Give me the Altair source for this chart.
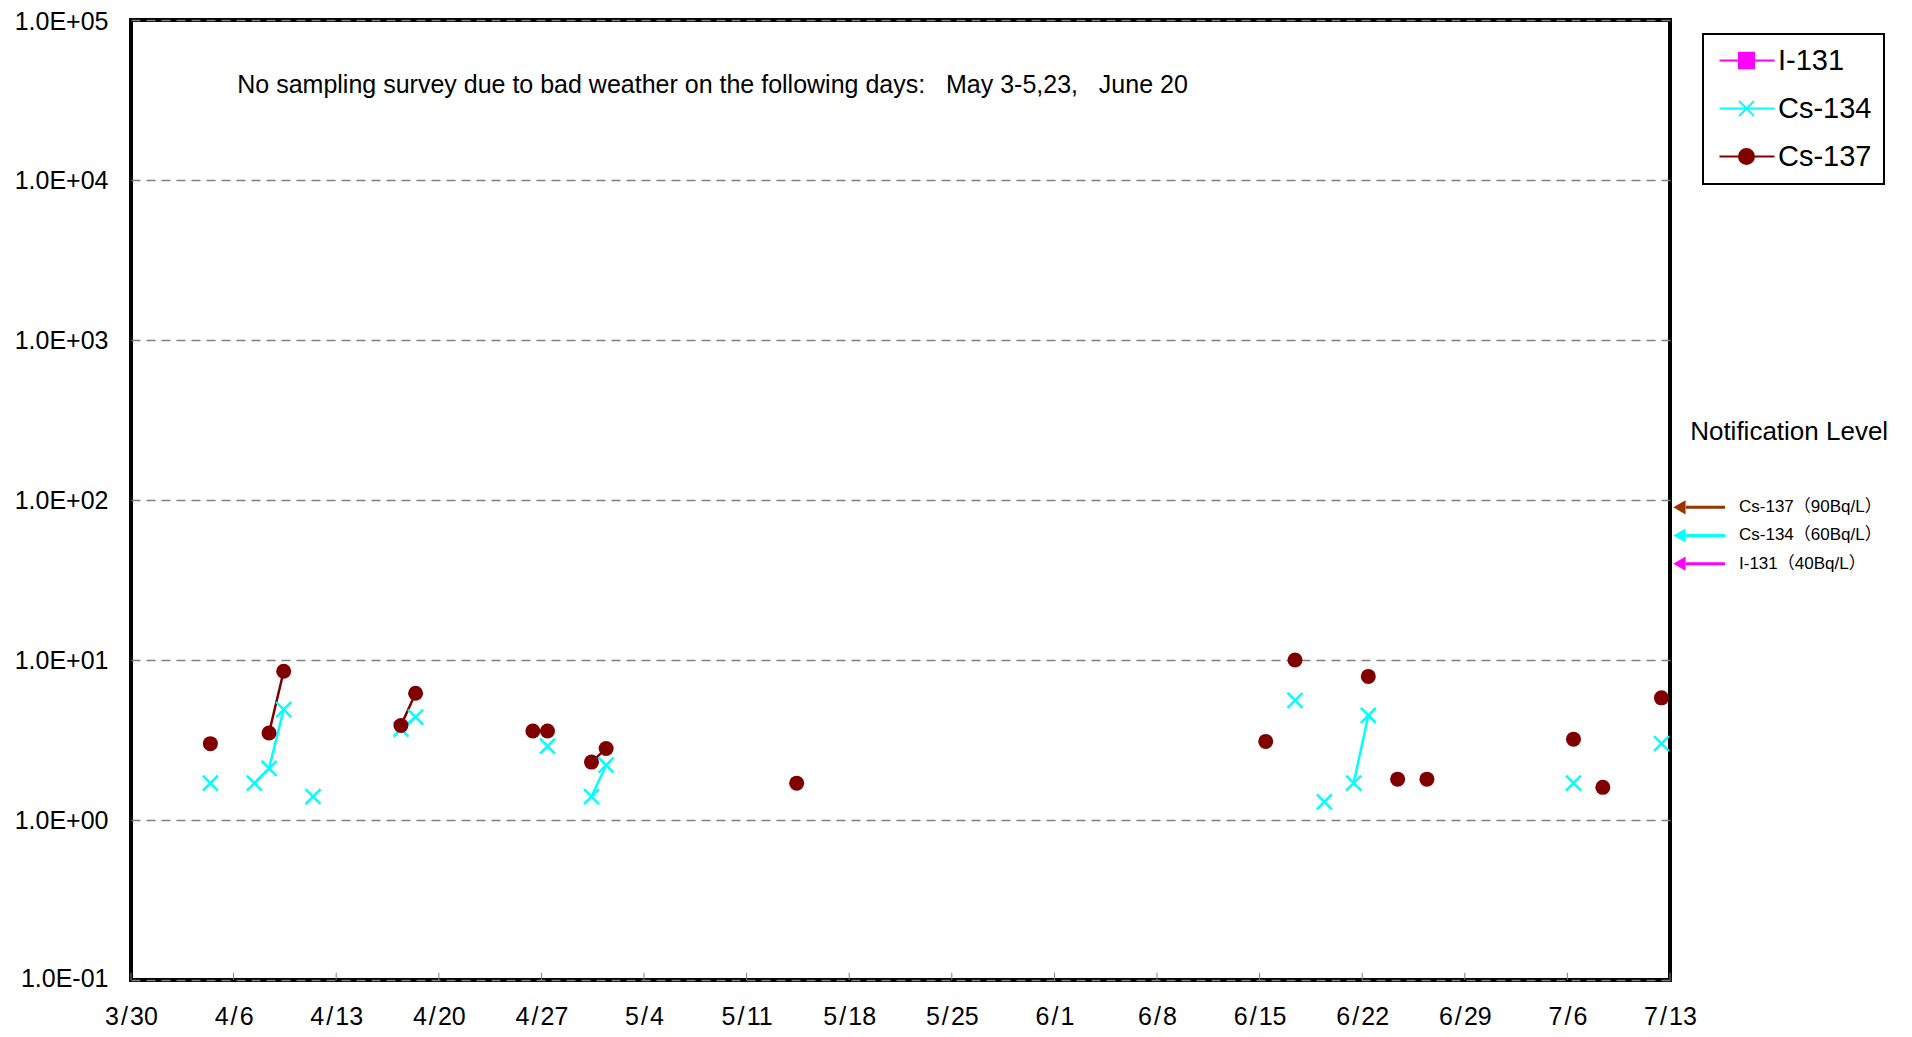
import altair as alt
import pandas as pd

YEAR = 2013
SAMPLE_TIME = "10:00"

# ---- measured data (Bq/L) ----
CS137_DATES = ["04-04", "04-08", "04-09", "04-17", "04-18", "04-26", "04-27", "04-30", "05-01",
               "05-14", "06-15", "06-17", "06-22", "06-24", "06-26", "07-06", "07-08", "07-12"]
CS137_VALUES = [3.0, 3.5, 8.5, 3.9, 6.2, 3.6, 3.6, 2.3, 2.8,
                1.7, 3.1, 10.0, 7.9, 1.8, 1.8, 3.2, 1.6, 5.8]

CS134_DATES = ["04-04", "04-07", "04-08", "04-09", "04-11", "04-17", "04-18", "04-27", "04-30",
               "05-01", "06-17", "06-19", "06-21", "06-22", "07-06", "07-12"]
CS134_VALUES = [1.7, 1.7, 2.1, 4.9, 1.4, 3.7, 4.4, 2.9, 1.4,
                2.2, 5.6, 1.3, 1.7, 4.5, 1.7, 3.0]

SERIES = ["I-131", "Cs-134", "Cs-137"]
SERIES_COLORS = ["#FF00FF", "#00FFFF", "#800000"]

# ---- axes ----
X_START = "03-30"
X_END = "07-13"
X_TICK_DATES = ["03-30", "04-06", "04-13", "04-20", "04-27", "05-04", "05-11", "05-18",
                "05-25", "06-01", "06-08", "06-15", "06-22", "06-29", "07-06", "07-13"]
X_TICK_FORMAT = "%-m\u200a/\u200a%-d"
Y_TICKS = [0.1, 1, 10, 100, 1000, 10000, 100000]
Y_LABELS = ["1.0E-01", "1.0E+00", "1.0E+01", "1.0E+02", "1.0E+03", "1.0E+04", "1.0E+05"]
INNER_TICK_TOP = 0.111

# ---- annotations ----
NOTE_TEXT = ("No sampling survey due to bad weather on the following days:\u00a0\u00a0"
             " May 3-5,23,\u00a0\u00a0 June 20")
NOTE_DATE = "04-06T06:00"
NOTE_VALUE = 39000

NOTIF_TITLE = "Notification Level"
NOTIF_TITLE_DATE = "07-14T09:00"
NOTIF_TITLE_VALUE = 265

NOTIF_LEVELS = [90, 60, 40]
NOTIF_LABELS = ["Cs-137（90Bq/L）", "Cs-134（60Bq/L）", "I-131（40Bq/L）"]
NOTIF_COLORS = ["#993300", "#00FFFF", "#FF00FF"]
ARROW_HEAD_DATE = "07-13T15:30"
ARROW_START_DATE = "07-14T02:00"
ARROW_END_DATE = "07-16T18:00"
NOTIF_LABEL_DATE = "07-17T17:00"

FONT = "Liberation Sans"
CJK_FONT = "Liberation Sans, Noto Sans CJK JP"


def ts(md):
    if "T" in md:
        return f"{YEAR}-{md}"
    return f"{YEAR}-{md}T{SAMPLE_TIME}"


def dt(md):
    m, d = md.split("-")
    return alt.DateTime(year=YEAR, month=int(m), date=int(d))


def series_frame(name, dates, values):
    df = pd.DataFrame({"series": name, "date": [ts(d) for d in dates], "value": values})
    days = pd.to_datetime(df["date"]).dt.normalize()
    df["run"] = (days.diff().dt.days.fillna(99) > 1).cumsum()
    return df


cs137 = series_frame("Cs-137", CS137_DATES, CS137_VALUES)
cs134 = series_frame("Cs-134", CS134_DATES, CS134_VALUES)

label_expr = " : ".join(
    f"datum.value < {t * 3} ? '{l}'" for t, l in zip(Y_TICKS, Y_LABELS)
) + " : ''"

x_axis = alt.Axis(values=[dt(d) for d in X_TICK_DATES], format=X_TICK_FORMAT, title=None,
                  labelFontSize=25, labelFont=FONT, labelColor="black", labelPadding=24,
                  ticks=False, tickSize=0, domain=False, grid=False,
                  labelFlush=False, labelOverlap=False)
y_axis = alt.Axis(values=Y_TICKS, labelExpr=label_expr, title=None,
                  labelFontSize=25, labelFont=FONT, labelColor="black", labelPadding=23,
                  labelFlush=True, labelFlushOffset=11, labelOverlap=False,
                  ticks=False, tickSize=0, domain=False, grid=True,
                  gridDash=[9, 6], gridColor="#808080", gridWidth=1.5)

X = alt.X("date:T", scale=alt.Scale(domain=[dt(X_START), dt(X_END)], nice=False), axis=x_axis)
X2 = alt.X2("date2:T")
Y = alt.Y("value:Q", scale=alt.Scale(type="log", domain=[Y_TICKS[0], Y_TICKS[-1]], nice=False),
          axis=y_axis)
Y2 = alt.Y2("value2:Q")

X_SHAPE = "M-1,-1L1,1M-1,1L1,-1"

# inner tick marks on the bottom axis
tick_df = pd.DataFrame({"date": [ts(d + "T00:00") for d in X_TICK_DATES],
                        "value": Y_TICKS[0], "value2": INNER_TICK_TOP})
ticks = alt.Chart(tick_df).mark_rule(color="#808080", strokeWidth=1).encode(x=X, y=Y, y2=Y2)

line134 = alt.Chart(cs134).mark_line(color=SERIES_COLORS[1], strokeWidth=2.5).encode(
    x=X, y=Y, detail="run:N")
line137 = alt.Chart(cs137).mark_line(color=SERIES_COLORS[2], strokeWidth=2.5).encode(
    x=X, y=Y, detail="run:N")
pts134 = alt.Chart(cs134).mark_point(shape=X_SHAPE, size=225, color=SERIES_COLORS[1],
                                     strokeWidth=2.5, opacity=1, filled=False).encode(x=X, y=Y)
pts137 = alt.Chart(cs137).mark_point(shape="circle", size=225, color=SERIES_COLORS[2],
                                     filled=True, opacity=1).encode(x=X, y=Y)

note_df = pd.DataFrame({"date": [ts(NOTE_DATE)], "value": [NOTE_VALUE], "text": [NOTE_TEXT]})
note = alt.Chart(note_df).mark_text(align="left", baseline="middle", fontSize=25, font=FONT,
                                    color="black", clip=False).encode(x=X, y=Y, text="text:N")

ntitle_df = pd.DataFrame({"date": [ts(NOTIF_TITLE_DATE)], "value": [NOTIF_TITLE_VALUE],
                          "text": [NOTIF_TITLE]})
ntitle = alt.Chart(ntitle_df).mark_text(align="left", baseline="middle", fontSize=26, font=FONT,
                                        color="black", clip=False).encode(x=X, y=Y, text="text:N")

notif_df = pd.DataFrame({
    "value": NOTIF_LEVELS, "label": NOTIF_LABELS, "color": NOTIF_COLORS,
    "date": ts(ARROW_START_DATE), "date2": ts(ARROW_END_DATE),
})
head_df = notif_df.assign(date=ts(ARROW_HEAD_DATE))
lab_df = notif_df.assign(date=ts(NOTIF_LABEL_DATE))
C = alt.Color("color:N", scale=None, legend=None)
arrows = alt.Chart(notif_df).mark_rule(strokeWidth=3, clip=False).encode(x=X, x2=X2, y=Y, color=C)
heads = alt.Chart(head_df).mark_point(shape="triangle-left", size=200, filled=True, opacity=1,
                                      clip=False).encode(x=X, y=Y, color=C)
nlabels = alt.Chart(lab_df).mark_text(align="left", baseline="middle", fontSize=17, font=CJK_FONT,
                                      color="black", clip=False).encode(x=X, y=Y, text="label:N")

# legend (line + marker symbols)
LEG_LINE = "M-1,0H4.5"
LEG_PATHS = [
    LEG_LINE + "M0.95,-0.78H2.45V0.78H0.95Z",
    LEG_LINE + "M0.95,-0.75L2.45,0.75M0.95,0.75L2.45,-0.75",
    LEG_LINE + "M0.95,0A0.75,0.75,0,1,1,2.45,0A0.75,0.75,0,1,1,0.95,0Z",
]
leg = alt.Legend(title=None, orient="none", legendX=1572, legendY=14, direction="vertical",
                 padding=12, strokeColor="black", fillColor="white", labelFontSize=29,
                 labelFont=FONT, labelColor="black", labelOffset=34, rowPadding=18,
                 symbolSize=400, symbolStrokeWidth=2)
legend_layer = alt.Chart(pd.DataFrame({"series": SERIES})).transform_filter("false").mark_point(
    size=400, strokeWidth=2, opacity=1, filled=True).encode(
    shape=alt.Shape("series:N", scale=alt.Scale(domain=SERIES, range=LEG_PATHS), legend=leg),
    fill=alt.Fill("series:N", scale=alt.Scale(domain=SERIES, range=SERIES_COLORS), legend=leg),
    stroke=alt.Stroke("series:N", scale=alt.Scale(domain=SERIES, range=SERIES_COLORS), legend=leg),
)

chart = alt.layer(
    ticks, line134, line137, pts134, pts137, note, ntitle, arrows, heads, nlabels, legend_layer
).properties(
    width=1539, height=960,
    padding={"left": 123, "top": 12, "right": 234, "bottom": 49},
    autosize=alt.AutoSizeParams(type="none"),
).configure(font=FONT).configure_view(
    stroke="black", strokeWidth=4
).configure_legend(strokeWidth=2)

chart.save("out.html", embed_options={"renderer": "svg", "actions": False})
